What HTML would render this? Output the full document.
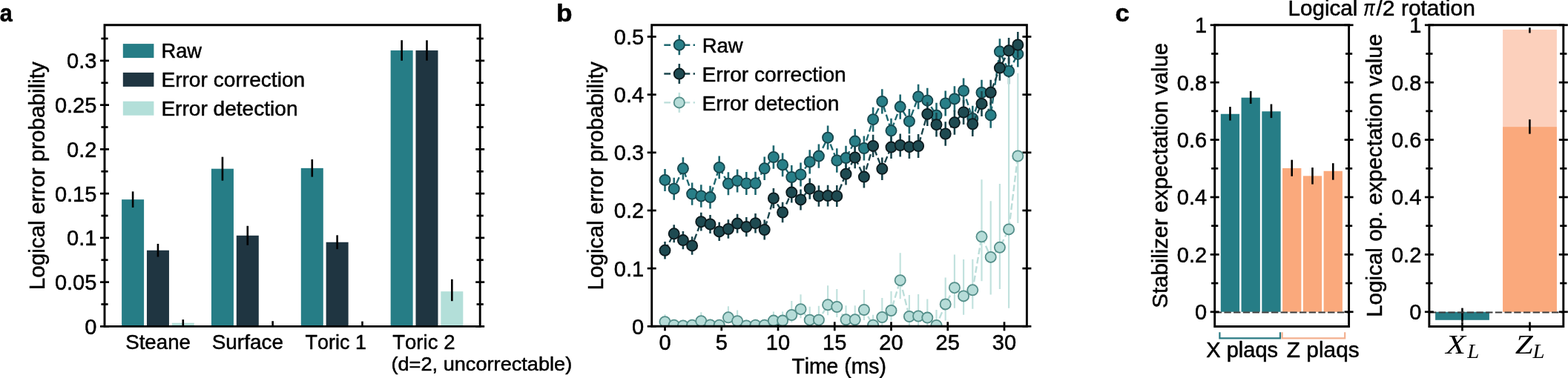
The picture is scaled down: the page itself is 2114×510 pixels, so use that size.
<!DOCTYPE html>
<html><head><meta charset="utf-8"><title>Figure</title>
<style>html,body{margin:0;padding:0;background:#fff;}body{width:2114px;height:510px;overflow:hidden;}svg{display:block;}</style>
</head><body>
<svg width="2114" height="510" viewBox="0 0 2114 510">
<style>text{stroke:#000;stroke-width:0.5px;stroke-linejoin:round;}</style>
<defs>
<clipPath id="clipb"><rect x="878.7" y="33.8" width="505.7" height="406.5"/></clipPath>
</defs>
<rect width="2114" height="510" fill="#fff"/>
<g font-family='"Liberation Sans", Arial, Helvetica, sans-serif' fill="#000" style="font-kerning:none">
<text x="-0.3" y="29" font-size="33.5" textLength="17" lengthAdjust="spacingAndGlyphs" font-weight="bold">a</text>
<text x="750.07" y="28.9" font-size="32.5" textLength="21.58" lengthAdjust="spacingAndGlyphs" font-weight="bold">b</text>
<text x="1503.55" y="29" font-size="33" textLength="19.27" lengthAdjust="spacingAndGlyphs" font-weight="bold">c</text>
<rect x="164.1" y="269.16" width="30" height="171.24" fill="#267d86"/>
<rect x="197.95" y="337.75" width="30" height="102.65" fill="#1f3541"/>
<rect x="231.8" y="435.74" width="30" height="4.66" fill="#b3dfd9"/>
<line x1="179.1" y1="258.36" x2="179.1" y2="279.96" stroke="#000" stroke-width="2.6"/>
<line x1="212.95" y1="328.95" x2="212.95" y2="346.55" stroke="#000" stroke-width="2.6"/>
<line x1="246.8" y1="431.14" x2="246.8" y2="440.34" stroke="#000" stroke-width="2.6"/>
<rect x="284.95" y="227.69" width="30" height="212.71" fill="#267d86"/>
<rect x="318.8" y="317.79" width="30" height="122.61" fill="#1f3541"/>
<line x1="299.95" y1="211.69" x2="299.95" y2="243.69" stroke="#000" stroke-width="2.6"/>
<line x1="333.8" y1="304.79" x2="333.8" y2="330.79" stroke="#000" stroke-width="2.6"/>
<line x1="367.65" y1="433.2" x2="367.65" y2="440.4" stroke="#000" stroke-width="2.6"/>
<rect x="405.8" y="226.85" width="30" height="213.55" fill="#267d86"/>
<rect x="439.65" y="326.76" width="30" height="113.64" fill="#1f3541"/>
<line x1="420.8" y1="215.05" x2="420.8" y2="238.65" stroke="#000" stroke-width="2.6"/>
<line x1="454.65" y1="317.36" x2="454.65" y2="336.16" stroke="#000" stroke-width="2.6"/>
<line x1="488.5" y1="433.6" x2="488.5" y2="440.4" stroke="#000" stroke-width="2.6"/>
<rect x="526.65" y="68.04" width="30" height="372.36" fill="#267d86"/>
<rect x="560.5" y="68.04" width="30" height="372.36" fill="#1f3541"/>
<rect x="594.35" y="393.2" width="30" height="47.2" fill="#b3dfd9"/>
<line x1="541.65" y1="54.24" x2="541.65" y2="81.84" stroke="#000" stroke-width="2.6"/>
<line x1="575.5" y1="54.34" x2="575.5" y2="81.74" stroke="#000" stroke-width="2.6"/>
<line x1="609.35" y1="376.8" x2="609.35" y2="406.2" stroke="#000" stroke-width="2.6"/>
<path d="M141 33.8H647.2V440.4H141Z" fill="none" stroke="#000" stroke-width="2.9" stroke-linejoin="miter"/>
<line x1="135" y1="440.4" x2="147" y2="440.4" stroke="#000" stroke-width="2.7"/>
<line x1="641.2" y1="440.4" x2="653.2" y2="440.4" stroke="#000" stroke-width="2.7"/>
<line x1="135" y1="380.65" x2="147" y2="380.65" stroke="#000" stroke-width="2.7"/>
<line x1="641.2" y1="380.65" x2="653.2" y2="380.65" stroke="#000" stroke-width="2.7"/>
<line x1="135" y1="320.9" x2="147" y2="320.9" stroke="#000" stroke-width="2.7"/>
<line x1="641.2" y1="320.9" x2="653.2" y2="320.9" stroke="#000" stroke-width="2.7"/>
<line x1="135" y1="261.15" x2="147" y2="261.15" stroke="#000" stroke-width="2.7"/>
<line x1="641.2" y1="261.15" x2="653.2" y2="261.15" stroke="#000" stroke-width="2.7"/>
<line x1="135" y1="201.4" x2="147" y2="201.4" stroke="#000" stroke-width="2.7"/>
<line x1="641.2" y1="201.4" x2="653.2" y2="201.4" stroke="#000" stroke-width="2.7"/>
<line x1="135" y1="141.65" x2="147" y2="141.65" stroke="#000" stroke-width="2.7"/>
<line x1="641.2" y1="141.65" x2="653.2" y2="141.65" stroke="#000" stroke-width="2.7"/>
<line x1="135" y1="81.9" x2="147" y2="81.9" stroke="#000" stroke-width="2.7"/>
<line x1="641.2" y1="81.9" x2="653.2" y2="81.9" stroke="#000" stroke-width="2.7"/>
<line x1="136.4" y1="410.52" x2="145.6" y2="410.52" stroke="#000" stroke-width="2.7"/>
<line x1="642.6" y1="410.52" x2="651.8" y2="410.52" stroke="#000" stroke-width="2.7"/>
<line x1="136.4" y1="350.77" x2="145.6" y2="350.77" stroke="#000" stroke-width="2.7"/>
<line x1="642.6" y1="350.77" x2="651.8" y2="350.77" stroke="#000" stroke-width="2.7"/>
<line x1="136.4" y1="291.02" x2="145.6" y2="291.02" stroke="#000" stroke-width="2.7"/>
<line x1="642.6" y1="291.02" x2="651.8" y2="291.02" stroke="#000" stroke-width="2.7"/>
<line x1="136.4" y1="231.27" x2="145.6" y2="231.27" stroke="#000" stroke-width="2.7"/>
<line x1="642.6" y1="231.27" x2="651.8" y2="231.27" stroke="#000" stroke-width="2.7"/>
<line x1="136.4" y1="171.52" x2="145.6" y2="171.52" stroke="#000" stroke-width="2.7"/>
<line x1="642.6" y1="171.52" x2="651.8" y2="171.52" stroke="#000" stroke-width="2.7"/>
<line x1="136.4" y1="111.77" x2="145.6" y2="111.77" stroke="#000" stroke-width="2.7"/>
<line x1="642.6" y1="111.77" x2="651.8" y2="111.77" stroke="#000" stroke-width="2.7"/>
<line x1="136.4" y1="52.02" x2="145.6" y2="52.02" stroke="#000" stroke-width="2.7"/>
<line x1="642.6" y1="52.02" x2="651.8" y2="52.02" stroke="#000" stroke-width="2.7"/>
<text x="130.4" y="450.8" font-size="29" text-anchor="end">0</text>
<text x="130.4" y="391.05" font-size="29" text-anchor="end">0.05</text>
<text x="130.4" y="331.3" font-size="29" text-anchor="end">0.1</text>
<text x="130.4" y="271.55" font-size="29" text-anchor="end">0.15</text>
<text x="130.4" y="211.8" font-size="29" text-anchor="end">0.2</text>
<text x="130.4" y="152.05" font-size="29" text-anchor="end">0.25</text>
<text x="130.4" y="92.3" font-size="29" text-anchor="end">0.3</text>
<text transform="translate(59.5 0) rotate(-90)" x="-391.23" y="0" font-size="28.6" textLength="308.09" lengthAdjust="spacingAndGlyphs">Logical error probability</text>
<text x="169.24" y="470.7" font-size="28.3" textLength="87.69" lengthAdjust="spacingAndGlyphs">Steane</text>
<text x="285.73" y="470.7" font-size="28.3" textLength="96.21" lengthAdjust="spacingAndGlyphs">Surface</text>
<text x="411.59" y="470.7" font-size="28.3" textLength="82.32" lengthAdjust="spacingAndGlyphs">Toric 1</text>
<text x="529.18" y="470.6" font-size="28.3" textLength="84.31" lengthAdjust="spacingAndGlyphs">Toric 2</text>
<text x="527.42" y="500.4" font-size="26.6" textLength="243.87" lengthAdjust="spacingAndGlyphs">(d=2, uncorrectable)</text>
<rect x="165.8" y="59.1" width="41.6" height="19" fill="#267d86"/>
<text x="217.46" y="78.2" font-size="28.3" textLength="54.57" lengthAdjust="spacingAndGlyphs">Raw</text>
<rect x="165.8" y="97.9" width="41.6" height="19" fill="#1f3541"/>
<text x="217.39" y="116.9" font-size="28.3" textLength="193.83" lengthAdjust="spacingAndGlyphs">Error correction</text>
<rect x="165.8" y="136.7" width="41.6" height="19" fill="#b3dfd9"/>
<text x="217.4" y="155.6" font-size="28.3" textLength="184.13" lengthAdjust="spacingAndGlyphs">Error detection</text>
<line x1="872.7" y1="440.3" x2="884.7" y2="440.3" stroke="#000" stroke-width="2.7"/>
<line x1="1378.4" y1="440.3" x2="1390.4" y2="440.3" stroke="#000" stroke-width="2.7"/>
<text x="868.1" y="450.7" font-size="29" text-anchor="end">0</text>
<line x1="872.7" y1="362.14" x2="884.7" y2="362.14" stroke="#000" stroke-width="2.7"/>
<line x1="1378.4" y1="362.14" x2="1390.4" y2="362.14" stroke="#000" stroke-width="2.7"/>
<text x="868.1" y="372.54" font-size="29" text-anchor="end">0.1</text>
<line x1="872.7" y1="283.98" x2="884.7" y2="283.98" stroke="#000" stroke-width="2.7"/>
<line x1="1378.4" y1="283.98" x2="1390.4" y2="283.98" stroke="#000" stroke-width="2.7"/>
<text x="868.1" y="294.38" font-size="29" text-anchor="end">0.2</text>
<line x1="872.7" y1="205.82" x2="884.7" y2="205.82" stroke="#000" stroke-width="2.7"/>
<line x1="1378.4" y1="205.82" x2="1390.4" y2="205.82" stroke="#000" stroke-width="2.7"/>
<text x="868.1" y="216.22" font-size="29" text-anchor="end">0.3</text>
<line x1="872.7" y1="127.66" x2="884.7" y2="127.66" stroke="#000" stroke-width="2.7"/>
<line x1="1378.4" y1="127.66" x2="1390.4" y2="127.66" stroke="#000" stroke-width="2.7"/>
<text x="868.1" y="138.06" font-size="29" text-anchor="end">0.4</text>
<line x1="872.7" y1="49.5" x2="884.7" y2="49.5" stroke="#000" stroke-width="2.7"/>
<line x1="1378.4" y1="49.5" x2="1390.4" y2="49.5" stroke="#000" stroke-width="2.7"/>
<text x="868.1" y="59.9" font-size="29" text-anchor="end">0.5</text>
<line x1="896.5" y1="434.3" x2="896.5" y2="446.3" stroke="#000" stroke-width="2.7"/>
<text x="896.5" y="472" font-size="29" text-anchor="middle">0</text>
<line x1="972.75" y1="434.3" x2="972.75" y2="446.3" stroke="#000" stroke-width="2.7"/>
<text x="972.75" y="472" font-size="29" text-anchor="middle">5</text>
<line x1="1049" y1="434.3" x2="1049" y2="446.3" stroke="#000" stroke-width="2.7"/>
<text x="1049" y="472" font-size="29" text-anchor="middle">10</text>
<line x1="1125.25" y1="434.3" x2="1125.25" y2="446.3" stroke="#000" stroke-width="2.7"/>
<text x="1125.25" y="472" font-size="29" text-anchor="middle">15</text>
<line x1="1201.5" y1="434.3" x2="1201.5" y2="446.3" stroke="#000" stroke-width="2.7"/>
<text x="1201.5" y="472" font-size="29" text-anchor="middle">20</text>
<line x1="1277.75" y1="434.3" x2="1277.75" y2="446.3" stroke="#000" stroke-width="2.7"/>
<text x="1277.75" y="472" font-size="29" text-anchor="middle">25</text>
<line x1="1354" y1="434.3" x2="1354" y2="446.3" stroke="#000" stroke-width="2.7"/>
<text x="1354" y="472" font-size="29" text-anchor="middle">30</text>
<g clip-path="url(#clipb)" stroke="#1f6870" stroke-width="2.6"><line x1="896.5" y1="227.9" x2="896.5" y2="257.9"/><line x1="908.7" y1="239.64" x2="908.7" y2="269.76"/><line x1="920.9" y1="212.17" x2="920.9" y2="242.43"/><line x1="933.1" y1="246.41" x2="933.1" y2="276.79"/><line x1="945.3" y1="249.24" x2="945.3" y2="279.76"/><line x1="957.5" y1="250.78" x2="957.5" y2="281.42"/><line x1="969.7" y1="210.52" x2="969.7" y2="241.28"/><line x1="981.9" y1="232.35" x2="981.9" y2="263.25"/><line x1="994.1" y1="228.39" x2="994.1" y2="259.41"/><line x1="1006.3" y1="231.92" x2="1006.3" y2="263.08"/><line x1="1018.5" y1="231.66" x2="1018.5" y2="262.94"/><line x1="1030.7" y1="211.59" x2="1030.7" y2="243.01"/><line x1="1042.9" y1="196.23" x2="1042.9" y2="227.77"/><line x1="1055.1" y1="206.57" x2="1055.1" y2="238.23"/><line x1="1067.3" y1="223.1" x2="1067.3" y2="254.9"/><line x1="1079.5" y1="219.54" x2="1079.5" y2="251.46"/><line x1="1091.7" y1="202.37" x2="1091.7" y2="234.43"/><line x1="1103.9" y1="194.51" x2="1103.9" y2="226.69"/><line x1="1116.1" y1="169.55" x2="1116.1" y2="201.85"/><line x1="1128.3" y1="200.28" x2="1128.3" y2="232.72"/><line x1="1140.5" y1="196.82" x2="1140.5" y2="229.38"/><line x1="1152.7" y1="174.25" x2="1152.7" y2="206.95"/><line x1="1164.9" y1="183.59" x2="1164.9" y2="216.41"/><line x1="1177.1" y1="144.73" x2="1177.1" y2="177.67"/><line x1="1189.3" y1="120.36" x2="1189.3" y2="153.44"/><line x1="1201.5" y1="159.7" x2="1201.5" y2="192.9"/><line x1="1213.7" y1="127.43" x2="1213.7" y2="160.77"/><line x1="1225.9" y1="146.97" x2="1225.9" y2="180.43"/><line x1="1238.1" y1="113.71" x2="1238.1" y2="147.29"/><line x1="1250.3" y1="118.84" x2="1250.3" y2="152.56"/><line x1="1262.5" y1="138.78" x2="1262.5" y2="172.62"/><line x1="1274.7" y1="122.51" x2="1274.7" y2="156.49"/><line x1="1286.9" y1="116.35" x2="1286.9" y2="150.45"/><line x1="1299.1" y1="105.38" x2="1299.1" y2="139.62"/><line x1="1311.3" y1="142.82" x2="1311.3" y2="177.18"/><line x1="1323.5" y1="107.76" x2="1323.5" y2="142.24"/><line x1="1335.7" y1="138.09" x2="1335.7" y2="172.71"/><line x1="1347.9" y1="52.23" x2="1347.9" y2="86.97"/><line x1="1360.1" y1="78.56" x2="1360.1" y2="113.44"/><line x1="1372.3" y1="55.4" x2="1372.3" y2="90.4"/></g>
<polyline clip-path="url(#clipb)" points="896.5,242.9 908.7,254.7 920.9,227.3 933.1,261.6 945.3,264.5 957.5,266.1 969.7,225.9 981.9,247.8 994.1,243.9 1006.3,247.5 1018.5,247.3 1030.7,227.3 1042.9,212 1055.1,222.4 1067.3,239 1079.5,235.5 1091.7,218.4 1103.9,210.6 1116.1,185.7 1128.3,216.5 1140.5,213.1 1152.7,190.6 1164.9,200 1177.1,161.2 1189.3,136.9 1201.5,176.3 1213.7,144.1 1225.9,163.7 1238.1,130.5 1250.3,135.7 1262.5,155.7 1274.7,139.5 1286.9,133.4 1299.1,122.5 1311.3,160 1323.5,125 1335.7,155.4 1347.9,69.6 1360.1,96 1372.3,72.9" fill="none" stroke="#1f6870" stroke-width="2.4" stroke-dasharray="8.8 3.8"/>
<g clip-path="url(#clipb)" fill="#287f88" stroke="#17454c" stroke-width="1.8"><circle cx="896.5" cy="242.9" r="7.1"/><circle cx="908.7" cy="254.7" r="7.1"/><circle cx="920.9" cy="227.3" r="7.1"/><circle cx="933.1" cy="261.6" r="7.1"/><circle cx="945.3" cy="264.5" r="7.1"/><circle cx="957.5" cy="266.1" r="7.1"/><circle cx="969.7" cy="225.9" r="7.1"/><circle cx="981.9" cy="247.8" r="7.1"/><circle cx="994.1" cy="243.9" r="7.1"/><circle cx="1006.3" cy="247.5" r="7.1"/><circle cx="1018.5" cy="247.3" r="7.1"/><circle cx="1030.7" cy="227.3" r="7.1"/><circle cx="1042.9" cy="212" r="7.1"/><circle cx="1055.1" cy="222.4" r="7.1"/><circle cx="1067.3" cy="239" r="7.1"/><circle cx="1079.5" cy="235.5" r="7.1"/><circle cx="1091.7" cy="218.4" r="7.1"/><circle cx="1103.9" cy="210.6" r="7.1"/><circle cx="1116.1" cy="185.7" r="7.1"/><circle cx="1128.3" cy="216.5" r="7.1"/><circle cx="1140.5" cy="213.1" r="7.1"/><circle cx="1152.7" cy="190.6" r="7.1"/><circle cx="1164.9" cy="200" r="7.1"/><circle cx="1177.1" cy="161.2" r="7.1"/><circle cx="1189.3" cy="136.9" r="7.1"/><circle cx="1201.5" cy="176.3" r="7.1"/><circle cx="1213.7" cy="144.1" r="7.1"/><circle cx="1225.9" cy="163.7" r="7.1"/><circle cx="1238.1" cy="130.5" r="7.1"/><circle cx="1250.3" cy="135.7" r="7.1"/><circle cx="1262.5" cy="155.7" r="7.1"/><circle cx="1274.7" cy="139.5" r="7.1"/><circle cx="1286.9" cy="133.4" r="7.1"/><circle cx="1299.1" cy="122.5" r="7.1"/><circle cx="1311.3" cy="160" r="7.1"/><circle cx="1323.5" cy="125" r="7.1"/><circle cx="1335.7" cy="155.4" r="7.1"/><circle cx="1347.9" cy="69.6" r="7.1"/><circle cx="1360.1" cy="96" r="7.1"/><circle cx="1372.3" cy="72.9" r="7.1"/></g>
<g clip-path="url(#clipb)" stroke="#1b454c" stroke-width="2.6"><line x1="896.5" y1="326" x2="896.5" y2="349.6"/><line x1="908.7" y1="303.35" x2="908.7" y2="327.25"/><line x1="920.9" y1="312.01" x2="920.9" y2="336.19"/><line x1="933.1" y1="319.16" x2="933.1" y2="343.64"/><line x1="945.3" y1="286.82" x2="945.3" y2="311.58"/><line x1="957.5" y1="289.97" x2="957.5" y2="315.03"/><line x1="969.7" y1="299.72" x2="969.7" y2="325.08"/><line x1="981.9" y1="296.18" x2="981.9" y2="321.82"/><line x1="994.1" y1="288.63" x2="994.1" y2="314.57"/><line x1="1006.3" y1="292.98" x2="1006.3" y2="319.22"/><line x1="1018.5" y1="287.94" x2="1018.5" y2="314.46"/><line x1="1030.7" y1="296.59" x2="1030.7" y2="323.41"/><line x1="1042.9" y1="253.95" x2="1042.9" y2="281.05"/><line x1="1055.1" y1="272.8" x2="1055.1" y2="300.2"/><line x1="1067.3" y1="245.75" x2="1067.3" y2="273.45"/><line x1="1079.5" y1="255.41" x2="1079.5" y2="283.39"/><line x1="1091.7" y1="240.56" x2="1091.7" y2="268.84"/><line x1="1103.9" y1="250.22" x2="1103.9" y2="278.78"/><line x1="1116.1" y1="249.67" x2="1116.1" y2="278.53"/><line x1="1128.3" y1="249.92" x2="1128.3" y2="279.08"/><line x1="1140.5" y1="219.98" x2="1140.5" y2="249.42"/><line x1="1152.7" y1="197.63" x2="1152.7" y2="227.37"/><line x1="1164.9" y1="223.58" x2="1164.9" y2="253.62"/><line x1="1177.1" y1="181.74" x2="1177.1" y2="212.06"/><line x1="1189.3" y1="212.49" x2="1189.3" y2="243.11"/><line x1="1201.5" y1="183.15" x2="1201.5" y2="214.05"/><line x1="1213.7" y1="180.4" x2="1213.7" y2="211.6"/><line x1="1225.9" y1="182.45" x2="1225.9" y2="213.95"/><line x1="1238.1" y1="181.11" x2="1238.1" y2="212.89"/><line x1="1250.3" y1="137.86" x2="1250.3" y2="169.94"/><line x1="1262.5" y1="152.02" x2="1262.5" y2="184.38"/><line x1="1274.7" y1="164.17" x2="1274.7" y2="196.83"/><line x1="1286.9" y1="148.82" x2="1286.9" y2="181.78"/><line x1="1299.1" y1="134.88" x2="1299.1" y2="168.12"/><line x1="1311.3" y1="150.53" x2="1311.3" y2="184.07"/><line x1="1323.5" y1="123.08" x2="1323.5" y2="156.92"/><line x1="1335.7" y1="107.74" x2="1335.7" y2="141.86"/><line x1="1347.9" y1="74.39" x2="1347.9" y2="108.81"/><line x1="1360.1" y1="50.95" x2="1360.1" y2="85.65"/><line x1="1372.3" y1="43" x2="1372.3" y2="78"/></g>
<polyline clip-path="url(#clipb)" points="896.5,337.8 908.7,315.3 920.9,324.1 933.1,331.4 945.3,299.2 957.5,302.5 969.7,312.4 981.9,309 994.1,301.6 1006.3,306.1 1018.5,301.2 1030.7,310 1042.9,267.5 1055.1,286.5 1067.3,259.6 1079.5,269.4 1091.7,254.7 1103.9,264.5 1116.1,264.1 1128.3,264.5 1140.5,234.7 1152.7,212.5 1164.9,238.6 1177.1,196.9 1189.3,227.8 1201.5,198.6 1213.7,196 1225.9,198.2 1238.1,197 1250.3,153.9 1262.5,168.2 1274.7,180.5 1286.9,165.3 1299.1,151.5 1311.3,167.3 1323.5,140 1335.7,124.8 1347.9,91.6 1360.1,68.3 1372.3,60.5" fill="none" stroke="#1b454c" stroke-width="2.4" stroke-dasharray="8.8 3.8"/>
<g clip-path="url(#clipb)" fill="#1e4a51" stroke="#0c1a1e" stroke-width="1.8"><circle cx="896.5" cy="337.8" r="7.1"/><circle cx="908.7" cy="315.3" r="7.1"/><circle cx="920.9" cy="324.1" r="7.1"/><circle cx="933.1" cy="331.4" r="7.1"/><circle cx="945.3" cy="299.2" r="7.1"/><circle cx="957.5" cy="302.5" r="7.1"/><circle cx="969.7" cy="312.4" r="7.1"/><circle cx="981.9" cy="309" r="7.1"/><circle cx="994.1" cy="301.6" r="7.1"/><circle cx="1006.3" cy="306.1" r="7.1"/><circle cx="1018.5" cy="301.2" r="7.1"/><circle cx="1030.7" cy="310" r="7.1"/><circle cx="1042.9" cy="267.5" r="7.1"/><circle cx="1055.1" cy="286.5" r="7.1"/><circle cx="1067.3" cy="259.6" r="7.1"/><circle cx="1079.5" cy="269.4" r="7.1"/><circle cx="1091.7" cy="254.7" r="7.1"/><circle cx="1103.9" cy="264.5" r="7.1"/><circle cx="1116.1" cy="264.1" r="7.1"/><circle cx="1128.3" cy="264.5" r="7.1"/><circle cx="1140.5" cy="234.7" r="7.1"/><circle cx="1152.7" cy="212.5" r="7.1"/><circle cx="1164.9" cy="238.6" r="7.1"/><circle cx="1177.1" cy="196.9" r="7.1"/><circle cx="1189.3" cy="227.8" r="7.1"/><circle cx="1201.5" cy="198.6" r="7.1"/><circle cx="1213.7" cy="196" r="7.1"/><circle cx="1225.9" cy="198.2" r="7.1"/><circle cx="1238.1" cy="197" r="7.1"/><circle cx="1250.3" cy="153.9" r="7.1"/><circle cx="1262.5" cy="168.2" r="7.1"/><circle cx="1274.7" cy="180.5" r="7.1"/><circle cx="1286.9" cy="165.3" r="7.1"/><circle cx="1299.1" cy="151.5" r="7.1"/><circle cx="1311.3" cy="167.3" r="7.1"/><circle cx="1323.5" cy="140" r="7.1"/><circle cx="1335.7" cy="124.8" r="7.1"/><circle cx="1347.9" cy="91.6" r="7.1"/><circle cx="1360.1" cy="68.3" r="7.1"/><circle cx="1372.3" cy="60.5" r="7.1"/></g>
<g clip-path="url(#clipb)" stroke="#c2e2de" stroke-width="2.2"><line x1="896.5" y1="424.2" x2="896.5" y2="440.2"/><line x1="908.7" y1="430.7" x2="908.7" y2="442.7"/><line x1="920.9" y1="431.5" x2="920.9" y2="443.5"/><line x1="933.1" y1="430.7" x2="933.1" y2="442.7"/><line x1="945.3" y1="421.2" x2="945.3" y2="439.2"/><line x1="957.5" y1="430.5" x2="957.5" y2="442.5"/><line x1="969.7" y1="430.7" x2="969.7" y2="442.7"/><line x1="981.9" y1="413.3" x2="981.9" y2="436.3"/><line x1="994.1" y1="418.6" x2="994.1" y2="440.2"/><line x1="1006.3" y1="431.5" x2="1006.3" y2="443.5"/><line x1="1018.5" y1="430.7" x2="1018.5" y2="442.7"/><line x1="1030.7" y1="430.7" x2="1030.7" y2="442.7"/><line x1="1042.9" y1="420.6" x2="1042.9" y2="439.6"/><line x1="1055.1" y1="420.6" x2="1055.1" y2="439.6"/><line x1="1067.3" y1="406" x2="1067.3" y2="435"/><line x1="1079.5" y1="397.2" x2="1079.5" y2="429.2"/><line x1="1091.7" y1="413.7" x2="1091.7" y2="439.7"/><line x1="1103.9" y1="412.7" x2="1103.9" y2="439.7"/><line x1="1116.1" y1="385.3" x2="1116.1" y2="425.3"/><line x1="1128.3" y1="390" x2="1128.3" y2="428"/><line x1="1140.5" y1="412.3" x2="1140.5" y2="439.3"/><line x1="1152.7" y1="412.3" x2="1152.7" y2="439.3"/><line x1="1164.9" y1="391" x2="1164.9" y2="432"/><line x1="1177.1" y1="424.7" x2="1177.1" y2="442.7"/><line x1="1189.3" y1="402" x2="1189.3" y2="440"/><line x1="1201.5" y1="393" x2="1201.5" y2="433"/><line x1="1213.7" y1="341.2" x2="1213.7" y2="403.2"/><line x1="1225.9" y1="398" x2="1225.9" y2="441"/><line x1="1238.1" y1="397" x2="1238.1" y2="440.5"/><line x1="1250.3" y1="403.6" x2="1250.3" y2="440.6"/><line x1="1262.5" y1="418" x2="1262.5" y2="443"/><line x1="1274.7" y1="374.4" x2="1274.7" y2="432.4"/><line x1="1286.9" y1="343.5" x2="1286.9" y2="415.7"/><line x1="1299.1" y1="350" x2="1299.1" y2="424.7"/><line x1="1311.3" y1="349.8" x2="1311.3" y2="416.8"/><line x1="1323.5" y1="242.3" x2="1323.5" y2="379.3"/><line x1="1335.7" y1="271.2" x2="1335.7" y2="397.4"/><line x1="1347.9" y1="248" x2="1347.9" y2="390.1"/><line x1="1360.1" y1="104.7" x2="1360.1" y2="415.7"/><line x1="1372.3" y1="98.8" x2="1372.3" y2="300.9"/></g>
<polyline clip-path="url(#clipb)" points="896.5,434.2 908.7,438.7 920.9,439.5 933.1,438.7 945.3,433.2 957.5,438.5 969.7,438.7 981.9,428.3 994.1,433.2 1006.3,439.5 1018.5,438.7 1030.7,438.7 1042.9,432.6 1055.1,432.6 1067.3,425 1079.5,417.2 1091.7,431.7 1103.9,431.7 1116.1,411.3 1128.3,414 1140.5,431.3 1152.7,431.3 1164.9,418 1177.1,438.7 1189.3,428 1201.5,419 1213.7,378.2 1225.9,427 1238.1,426.5 1250.3,428.6 1262.5,439 1274.7,410.4 1286.9,388.2 1299.1,399.4 1311.3,391.3 1323.5,319.3 1335.7,346.9 1347.9,333.8 1360.1,309.4 1372.3,210.5" fill="none" stroke="#bcdeda" stroke-width="2.4" stroke-dasharray="8.8 3.8"/>
<g clip-path="url(#clipb)" fill="#b6dcd8" stroke="#558f8a" stroke-width="1.8"><circle cx="896.5" cy="434.2" r="7.1"/><circle cx="908.7" cy="438.7" r="7.1"/><circle cx="920.9" cy="439.5" r="7.1"/><circle cx="933.1" cy="438.7" r="7.1"/><circle cx="945.3" cy="433.2" r="7.1"/><circle cx="957.5" cy="438.5" r="7.1"/><circle cx="969.7" cy="438.7" r="7.1"/><circle cx="981.9" cy="428.3" r="7.1"/><circle cx="994.1" cy="433.2" r="7.1"/><circle cx="1006.3" cy="439.5" r="7.1"/><circle cx="1018.5" cy="438.7" r="7.1"/><circle cx="1030.7" cy="438.7" r="7.1"/><circle cx="1042.9" cy="432.6" r="7.1"/><circle cx="1055.1" cy="432.6" r="7.1"/><circle cx="1067.3" cy="425" r="7.1"/><circle cx="1079.5" cy="417.2" r="7.1"/><circle cx="1091.7" cy="431.7" r="7.1"/><circle cx="1103.9" cy="431.7" r="7.1"/><circle cx="1116.1" cy="411.3" r="7.1"/><circle cx="1128.3" cy="414" r="7.1"/><circle cx="1140.5" cy="431.3" r="7.1"/><circle cx="1152.7" cy="431.3" r="7.1"/><circle cx="1164.9" cy="418" r="7.1"/><circle cx="1177.1" cy="438.7" r="7.1"/><circle cx="1189.3" cy="428" r="7.1"/><circle cx="1201.5" cy="419" r="7.1"/><circle cx="1213.7" cy="378.2" r="7.1"/><circle cx="1225.9" cy="427" r="7.1"/><circle cx="1238.1" cy="426.5" r="7.1"/><circle cx="1250.3" cy="428.6" r="7.1"/><circle cx="1262.5" cy="439" r="7.1"/><circle cx="1274.7" cy="410.4" r="7.1"/><circle cx="1286.9" cy="388.2" r="7.1"/><circle cx="1299.1" cy="399.4" r="7.1"/><circle cx="1311.3" cy="391.3" r="7.1"/><circle cx="1323.5" cy="319.3" r="7.1"/><circle cx="1335.7" cy="346.9" r="7.1"/><circle cx="1347.9" cy="333.8" r="7.1"/><circle cx="1360.1" cy="309.4" r="7.1"/><circle cx="1372.3" cy="210.5" r="7.1"/></g>
<path d="M878.7 33.8H1384.4V440.3H878.7Z" fill="none" stroke="#000" stroke-width="2.9" stroke-linejoin="miter"/>
<text transform="translate(812.6 0) rotate(-90)" x="-391.53" y="0" font-size="28.6" textLength="308.29" lengthAdjust="spacingAndGlyphs">Logical error probability</text>
<text x="1067.46" y="503.5" font-size="28.6" textLength="127.39" lengthAdjust="spacingAndGlyphs">Time (ms)</text>
<line x1="895.3" y1="60.7" x2="937" y2="60.7" stroke="#1f6870" stroke-width="2.4" stroke-dasharray="8.8 4.3"/>
<line x1="915.8" y1="47.2" x2="915.8" y2="74.2" stroke="#1f6870" stroke-width="2.6"/>
<circle cx="915.8" cy="60.7" r="7.1" fill="#287f88" stroke="#17454c" stroke-width="1.8"/>
<text x="946.65" y="70.8" font-size="28.3" textLength="54.99" lengthAdjust="spacingAndGlyphs">Raw</text>
<line x1="895.3" y1="99.55" x2="937" y2="99.55" stroke="#1b454c" stroke-width="2.4" stroke-dasharray="8.8 4.3"/>
<line x1="915.8" y1="86.05" x2="915.8" y2="113.05" stroke="#1b454c" stroke-width="2.6"/>
<circle cx="915.8" cy="99.55" r="7.1" fill="#1e4a51" stroke="#0c1a1e" stroke-width="1.8"/>
<text x="946.59" y="109.7" font-size="28.3" textLength="194.14" lengthAdjust="spacingAndGlyphs">Error correction</text>
<line x1="895.3" y1="138.4" x2="937" y2="138.4" stroke="#bcdeda" stroke-width="2.4" stroke-dasharray="8.8 4.3"/>
<line x1="915.8" y1="124.9" x2="915.8" y2="151.9" stroke="#c2e2de" stroke-width="2.6"/>
<circle cx="915.8" cy="138.4" r="7.1" fill="#b6dcd8" stroke="#558f8a" stroke-width="1.8"/>
<text x="946.59" y="148.6" font-size="28.3" textLength="184.74" lengthAdjust="spacingAndGlyphs">Error detection</text>
<rect x="1645.8" y="153.77" width="25.3" height="267.03" fill="#267d86"/>
<rect x="1673.56" y="131.71" width="25.3" height="289.09" fill="#267d86"/>
<rect x="1701.32" y="150.29" width="25.3" height="270.51" fill="#267d86"/>
<rect x="1729.08" y="226.91" width="25.3" height="193.89" fill="#faa97c"/>
<rect x="1756.84" y="237.36" width="25.3" height="183.44" fill="#faa97c"/>
<rect x="1784.6" y="230.78" width="25.3" height="190.02" fill="#faa97c"/>
<line x1="1658.45" y1="144.1" x2="1658.45" y2="162.6" stroke="#000" stroke-width="2.6"/>
<line x1="1686.21" y1="122.9" x2="1686.21" y2="140" stroke="#000" stroke-width="2.6"/>
<line x1="1713.97" y1="140.5" x2="1713.97" y2="159.1" stroke="#000" stroke-width="2.6"/>
<line x1="1741.73" y1="215.7" x2="1741.73" y2="237.8" stroke="#000" stroke-width="2.6"/>
<line x1="1769.49" y1="226.1" x2="1769.49" y2="248.6" stroke="#000" stroke-width="2.6"/>
<line x1="1797.25" y1="220.2" x2="1797.25" y2="242.7" stroke="#000" stroke-width="2.6"/>
<line x1="1637.7" y1="421.4" x2="1818.6" y2="421.4" stroke="#3a3a3a" stroke-width="2" stroke-dasharray="9.4 3.3"/>
<path d="M1637.7 33.8H1818.6V440.5H1637.7Z" fill="none" stroke="#000" stroke-width="2.9" stroke-linejoin="miter"/>
<line x1="1631.7" y1="420.8" x2="1643.7" y2="420.8" stroke="#000" stroke-width="2.7"/>
<line x1="1812.6" y1="420.8" x2="1824.6" y2="420.8" stroke="#000" stroke-width="2.7"/>
<text x="1627.1" y="431.2" font-size="29" text-anchor="end">0</text>
<line x1="1631.7" y1="343.4" x2="1643.7" y2="343.4" stroke="#000" stroke-width="2.7"/>
<line x1="1812.6" y1="343.4" x2="1824.6" y2="343.4" stroke="#000" stroke-width="2.7"/>
<text x="1627.1" y="353.8" font-size="29" text-anchor="end">0.2</text>
<line x1="1631.7" y1="266" x2="1643.7" y2="266" stroke="#000" stroke-width="2.7"/>
<line x1="1812.6" y1="266" x2="1824.6" y2="266" stroke="#000" stroke-width="2.7"/>
<text x="1627.1" y="276.4" font-size="29" text-anchor="end">0.4</text>
<line x1="1631.7" y1="188.6" x2="1643.7" y2="188.6" stroke="#000" stroke-width="2.7"/>
<line x1="1812.6" y1="188.6" x2="1824.6" y2="188.6" stroke="#000" stroke-width="2.7"/>
<text x="1627.1" y="199" font-size="29" text-anchor="end">0.6</text>
<line x1="1631.7" y1="111.2" x2="1643.7" y2="111.2" stroke="#000" stroke-width="2.7"/>
<line x1="1812.6" y1="111.2" x2="1824.6" y2="111.2" stroke="#000" stroke-width="2.7"/>
<text x="1627.1" y="121.6" font-size="29" text-anchor="end">0.8</text>
<line x1="1631.7" y1="33.8" x2="1643.7" y2="33.8" stroke="#000" stroke-width="2.7"/>
<line x1="1812.6" y1="33.8" x2="1824.6" y2="33.8" stroke="#000" stroke-width="2.7"/>
<text x="1627.1" y="44.2" font-size="29" text-anchor="end">1</text>
<line x1="1633.1" y1="382.1" x2="1642.3" y2="382.1" stroke="#000" stroke-width="2.7"/>
<line x1="1814" y1="382.1" x2="1823.2" y2="382.1" stroke="#000" stroke-width="2.7"/>
<line x1="1633.1" y1="304.7" x2="1642.3" y2="304.7" stroke="#000" stroke-width="2.7"/>
<line x1="1814" y1="304.7" x2="1823.2" y2="304.7" stroke="#000" stroke-width="2.7"/>
<line x1="1633.1" y1="227.3" x2="1642.3" y2="227.3" stroke="#000" stroke-width="2.7"/>
<line x1="1814" y1="227.3" x2="1823.2" y2="227.3" stroke="#000" stroke-width="2.7"/>
<line x1="1633.1" y1="149.9" x2="1642.3" y2="149.9" stroke="#000" stroke-width="2.7"/>
<line x1="1814" y1="149.9" x2="1823.2" y2="149.9" stroke="#000" stroke-width="2.7"/>
<line x1="1633.1" y1="72.5" x2="1642.3" y2="72.5" stroke="#000" stroke-width="2.7"/>
<line x1="1814" y1="72.5" x2="1823.2" y2="72.5" stroke="#000" stroke-width="2.7"/>
<text transform="translate(1574.2 0) rotate(-90)" x="-415.74" y="0" font-size="28.6" textLength="357.94" lengthAdjust="spacingAndGlyphs">Stabilizer expectation value</text>
<path d="M1644.4 448.2V456.3H1726V448.2" fill="none" stroke="#2a7b84" stroke-width="2.2"/>
<path d="M1728.6 448.2V456.3H1813.2V448.2" fill="none" stroke="#f3b08f" stroke-width="2.2"/>
<text x="1626.35" y="482" font-size="28.6" textLength="96.7" lengthAdjust="spacingAndGlyphs">X plaqs</text>
<text x="1734.85" y="482" font-size="28.6" textLength="97.82" lengthAdjust="spacingAndGlyphs">Z plaqs</text>
<text x="1736.47" y="20.9" font-size="28.6" textLength="93.91" lengthAdjust="spacingAndGlyphs">Logical</text>
<text x="1838.37" y="20.9" font-size="28.6" textLength="15.48" lengthAdjust="spacingAndGlyphs" font-style="italic">π</text>
<text x="1855.4" y="20.9" font-size="28.6" textLength="25.11" lengthAdjust="spacingAndGlyphs">/2</text>
<text x="1888.91" y="20.9" font-size="28.6" textLength="99.94" lengthAdjust="spacingAndGlyphs">rotation</text>
<rect x="1935.1" y="420.8" width="72.8" height="11" fill="#267d86"/>
<rect x="2026.1" y="39.99" width="72.8" height="380.81" fill="#fcd0bc"/>
<rect x="2026.1" y="171.19" width="72.8" height="249.62" fill="#faa97c"/>
<line x1="1971.5" y1="415.6" x2="1971.5" y2="434.3" stroke="#000" stroke-width="2.6"/>
<line x1="2062.4" y1="37.3" x2="2062.4" y2="44.5" stroke="#000" stroke-width="2.6"/>
<line x1="2062.4" y1="161.2" x2="2062.4" y2="180.6" stroke="#000" stroke-width="2.6"/>
<line x1="1926.9" y1="421.4" x2="2107.8" y2="421.4" stroke="#3a3a3a" stroke-width="2" stroke-dasharray="9.4 3.3"/>
<path d="M1926.9 33.8H2107.8V440.5H1926.9Z" fill="none" stroke="#000" stroke-width="2.9" stroke-linejoin="miter"/>
<line x1="1920.9" y1="420.8" x2="1932.9" y2="420.8" stroke="#000" stroke-width="2.7"/>
<line x1="2101.8" y1="420.8" x2="2113.8" y2="420.8" stroke="#000" stroke-width="2.7"/>
<text x="1916.3" y="431.2" font-size="29" text-anchor="end">0</text>
<line x1="1920.9" y1="343.4" x2="1932.9" y2="343.4" stroke="#000" stroke-width="2.7"/>
<line x1="2101.8" y1="343.4" x2="2113.8" y2="343.4" stroke="#000" stroke-width="2.7"/>
<text x="1916.3" y="353.8" font-size="29" text-anchor="end">0.2</text>
<line x1="1920.9" y1="266" x2="1932.9" y2="266" stroke="#000" stroke-width="2.7"/>
<line x1="2101.8" y1="266" x2="2113.8" y2="266" stroke="#000" stroke-width="2.7"/>
<text x="1916.3" y="276.4" font-size="29" text-anchor="end">0.4</text>
<line x1="1920.9" y1="188.6" x2="1932.9" y2="188.6" stroke="#000" stroke-width="2.7"/>
<line x1="2101.8" y1="188.6" x2="2113.8" y2="188.6" stroke="#000" stroke-width="2.7"/>
<text x="1916.3" y="199" font-size="29" text-anchor="end">0.6</text>
<line x1="1920.9" y1="111.2" x2="1932.9" y2="111.2" stroke="#000" stroke-width="2.7"/>
<line x1="2101.8" y1="111.2" x2="2113.8" y2="111.2" stroke="#000" stroke-width="2.7"/>
<text x="1916.3" y="121.6" font-size="29" text-anchor="end">0.8</text>
<line x1="1920.9" y1="33.8" x2="1932.9" y2="33.8" stroke="#000" stroke-width="2.7"/>
<line x1="2101.8" y1="33.8" x2="2113.8" y2="33.8" stroke="#000" stroke-width="2.7"/>
<text x="1916.3" y="44.2" font-size="29" text-anchor="end">1</text>
<line x1="1922.3" y1="382.1" x2="1931.5" y2="382.1" stroke="#000" stroke-width="2.7"/>
<line x1="2103.2" y1="382.1" x2="2112.4" y2="382.1" stroke="#000" stroke-width="2.7"/>
<line x1="1922.3" y1="304.7" x2="1931.5" y2="304.7" stroke="#000" stroke-width="2.7"/>
<line x1="2103.2" y1="304.7" x2="2112.4" y2="304.7" stroke="#000" stroke-width="2.7"/>
<line x1="1922.3" y1="227.3" x2="1931.5" y2="227.3" stroke="#000" stroke-width="2.7"/>
<line x1="2103.2" y1="227.3" x2="2112.4" y2="227.3" stroke="#000" stroke-width="2.7"/>
<line x1="1922.3" y1="149.9" x2="1931.5" y2="149.9" stroke="#000" stroke-width="2.7"/>
<line x1="2103.2" y1="149.9" x2="2112.4" y2="149.9" stroke="#000" stroke-width="2.7"/>
<line x1="1922.3" y1="72.5" x2="1931.5" y2="72.5" stroke="#000" stroke-width="2.7"/>
<line x1="2103.2" y1="72.5" x2="2112.4" y2="72.5" stroke="#000" stroke-width="2.7"/>
<line x1="1971.5" y1="434.5" x2="1971.5" y2="446.5" stroke="#000" stroke-width="2.7"/>
<line x1="2062.5" y1="434.5" x2="2062.5" y2="446.5" stroke="#000" stroke-width="2.7"/>
<text transform="translate(1862.9 0) rotate(-90)" x="-428.03" y="0" font-size="28.6" textLength="382.25" lengthAdjust="spacingAndGlyphs">Logical op. expectation value</text>
<text x="1949.35" y="476.7" font-size="36.6" textLength="26.74" lengthAdjust="spacingAndGlyphs" font-family='"Liberation Serif", "Times New Roman", serif' font-style="italic" style="stroke:none">X</text>
<text x="1978.34" y="482.6" font-size="27" textLength="16.03" lengthAdjust="spacingAndGlyphs" font-family='"Liberation Serif", "Times New Roman", serif' font-style="italic" style="stroke:none">L</text>
<text x="2042.77" y="476.7" font-size="36.6" textLength="23.97" lengthAdjust="spacingAndGlyphs" font-family='"Liberation Serif", "Times New Roman", serif' font-style="italic" style="stroke:none">Z</text>
<text x="2066.54" y="482.6" font-size="27" textLength="16.03" lengthAdjust="spacingAndGlyphs" font-family='"Liberation Serif", "Times New Roman", serif' font-style="italic" style="stroke:none">L</text>
</g>
</svg>
</body></html>
